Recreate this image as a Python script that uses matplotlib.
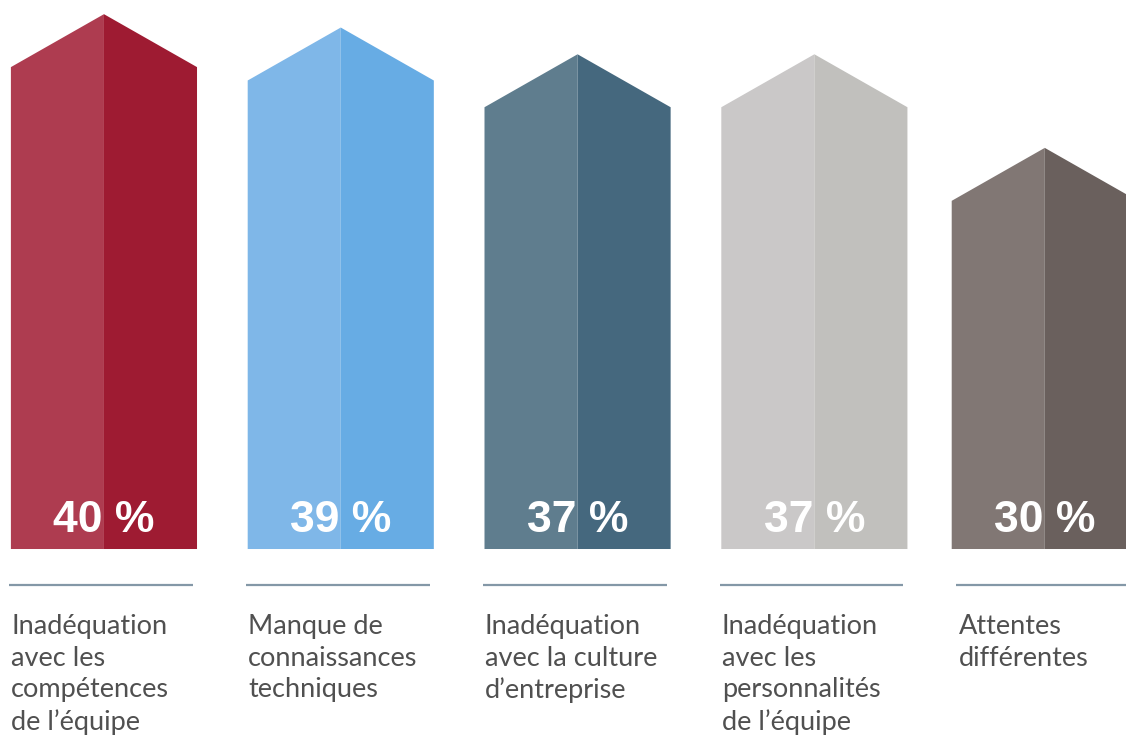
import matplotlib

matplotlib.use("Agg")
import matplotlib.pyplot as plt
from matplotlib.patches import Polygon

CATEGORIES = [
    "Inadéquation\navec les\ncompétences\nde l’équipe",
    "Manque de\nconnaissances\ntechniques",
    "Inadéquation\navec la culture\nd’entreprise",
    "Inadéquation\navec les\npersonnalités\nde l’équipe",
    "Attentes\ndifférentes",
]
VALUES = [40, 39, 37, 37, 30]
LIGHT = ["#AE3C50", "#7FB7E8", "#5F7D8E", "#CAC8C8", "#817774"]
DARK = ["#9E1B32", "#67ACE4", "#45687E", "#C1C0BD", "#6A605D"]

LINE = "#8498A7"
TEXT = "#505050"

HALF_W = 0.393      # half bar width, category units
SHOULDER = 3.96     # drop from peak to shoulder, value units


def main():
    fig = plt.figure(figsize=(11.26, 7.35), dpi=100)
    ax = fig.add_axes([0, 0, 1, 1])
    ax.set_xlim(-0.439, 4.316)
    ax.set_ylim(-13.91, 41.06)
    ax.axis("off")

    for i, (label, v) in enumerate(zip(CATEGORIES, VALUES)):
        # last arrow sits a little left so it is not cut by the edge
        c = i - (0.027 if i == 4 else 0)
        left = [(c - HALF_W, 0), (c - HALF_W, v - SHOULDER), (c, v), (c, 0)]
        right = [(c, 0), (c, v), (c + HALF_W, v - SHOULDER), (c + HALF_W, 0)]
        ax.add_patch(Polygon(left, closed=True, color=LIGHT[i], lw=0))
        ax.add_patch(Polygon(right, closed=True, color=DARK[i], lw=0))

        ax.text(c, 1.27, f"{v} %", ha="center", va="baseline", color="white",
                fontsize=32, weight="bold", family="Liberation Sans")

        ax.plot([i - 0.40, i + 0.376], [-2.69, -2.69], color=LINE, lw=1.6,
                solid_capstyle="butt")
        ax.text(i - 0.391, -4.88, label, ha="left", va="top", color=TEXT,
                fontsize=19.5, family="Lato", linespacing=1.32)

    fig.savefig("out.png", dpi=100, facecolor="white")


if __name__ == "__main__":
    main()
